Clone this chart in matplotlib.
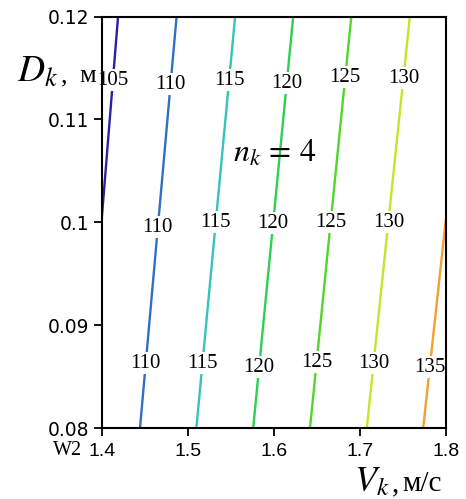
import numpy as np
import matplotlib.pyplot as plt

plt.rcParams['mathtext.fontset'] = 'stix'
plt.rcParams['font.family'] = ['DejaVu Sans']

# уровни изолиний и их концы: (V, D) в начале и в конце отрезка
levels = [105, 110, 115, 120, 125, 130, 135]
v_start = [1.400, 1.4445, 1.510, 1.576, 1.642, 1.708, 1.7735]
d_start = [0.1003, 0.080, 0.080, 0.080, 0.080, 0.080, 0.080]
v_end = [1.419, 1.487, 1.555, 1.6225, 1.690, 1.758, 1.800]
d_end = [0.120, 0.120, 0.120, 0.120, 0.120, 0.120, 0.1004]
colors = ['#2b1fa6', '#2f70c6', '#34c3bf', '#2fcf55', '#52d628', '#c3e52a', '#f4a02c']

# подписи уровней: уровень и высота D, на которой стоит подпись
label_levels = [105, 110, 115, 120, 125, 130,
                110, 115, 120, 125, 130,
                110, 115, 120, 125, 130, 135]
label_d = [0.1138, 0.1134, 0.1138, 0.1135, 0.1141, 0.1140,
           0.0995, 0.1000, 0.0999, 0.1000, 0.1000,
           0.0863, 0.0863, 0.0859, 0.0864, 0.0863, 0.0859]

v_ticks = [1.4, 1.5, 1.6, 1.7, 1.8]
d_ticks = [0.08, 0.09, 0.10, 0.11, 0.12]
d_ticklabels = ['0.08', '0.09', '0.1', '0.11', '0.12']

fig = plt.figure(figsize=(4.66, 4.99), dpi=100)
ax = fig.add_axes([101.7 / 466, 1 - 428 / 499, (446 - 101.7) / 466, (428 - 16.5) / 499])

for i, lev in enumerate(levels):
    ax.plot([v_start[i], v_end[i]], [d_start[i], d_end[i]],
            color=colors[i], lw=1.7, solid_capstyle='butt', zorder=2)

# подписи поверх линий, но под рамкой осей
for lev, d in zip(label_levels, label_d):
    i = levels.index(lev)
    v = np.interp(d, [d_start[i], d_end[i]], [v_start[i], v_end[i]])
    ax.text(v, d, str(lev), ha='center', va='center', fontsize=15,
            family='Liberation Serif', zorder=2.2,
            bbox=dict(facecolor='white', edgecolor='none', pad=1.0))

ax.set_xlim(1.4, 1.8)
ax.set_ylim(0.08, 0.12)
ax.set_xticks(v_ticks)
ax.set_xticklabels([f'{v:.1f}' for v in v_ticks],
                   family='Liberation Sans', fontsize=14)
ax.set_yticks(d_ticks)
ax.set_yticklabels(d_ticklabels, fontsize=13.5)
ax.tick_params(direction='out', length=6, width=1.3)
ax.tick_params(axis='x', pad=5)
ax.tick_params(axis='y', pad=3)
for sp in ax.spines.values():
    sp.set_linewidth(1.5)
    sp.set_zorder(3)
ax.grid(False)

# подписи осей и параметр семейства
fig.text(17 / 466, 1 - 82 / 499, r'$D_k$', fontsize=27, va='baseline')
fig.text(61 / 466, 1 - 82 / 499, ',', fontsize=19, va='baseline',
         family='Liberation Serif')
fig.text(79 / 466, 1 - 82 / 499, 'м', fontsize=19, va='baseline',
         family='Liberation Serif')
fig.text(233 / 466, 1 - 162 / 499, r'$n_k\,=\,4$', fontsize=23, va='baseline')
fig.text(354 / 466, 1 - 491 / 499, r'$V_k$', fontsize=26, va='baseline')
fig.text(392 / 466, 1 - 491 / 499, ',', fontsize=21, va='baseline',
         family='Liberation Serif')
fig.text(402 / 466, 1 - 491 / 499, 'м/с', fontsize=21, va='baseline',
         family='Liberation Serif')
fig.text(53 / 466, 1 - 441 / 499, 'W2', fontsize=14.5, va='top',
         family='Liberation Serif')

fig.savefig('out.png', dpi=100, facecolor='white')
